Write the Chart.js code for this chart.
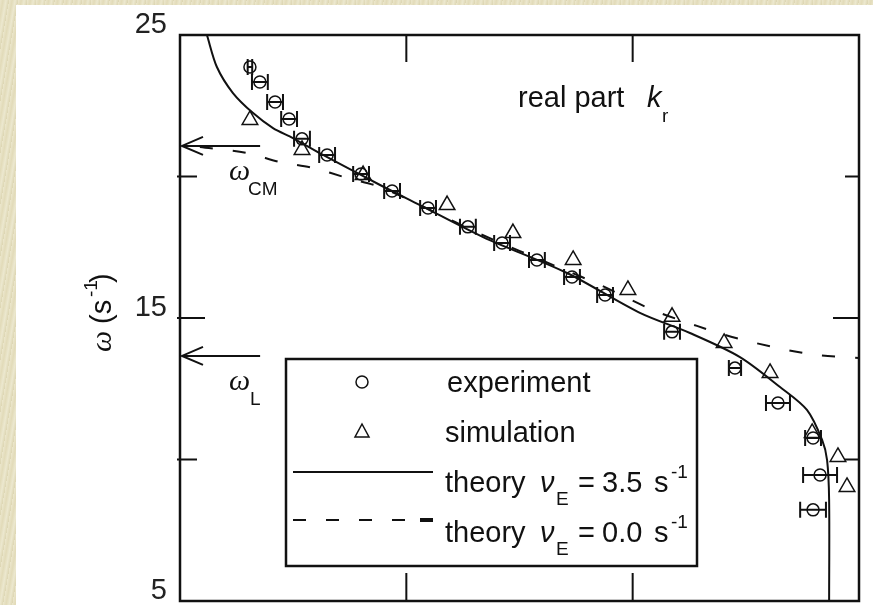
<!DOCTYPE html>
<html>
<head>
<meta charset="utf-8">
<script src="https://cdn.jsdelivr.net/npm/chart.js@4.4.1/dist/chart.umd.min.js"></script>
<style>
  html, body { margin: 0; padding: 0; }
  body {
    width: 873px; height: 605px; overflow: hidden; position: relative;
    background: repeating-linear-gradient(100deg, #ebe6cb 0px, #e2dbb9 3px, #ece8cf 6px, #ddd6b3 9px);
  }
  #paper { position: absolute; left: 16px; top: 5px; width: 857px; height: 600px; background: #fff; }
  #chart { position: absolute; left: 0; top: 0; }
</style>
</head>
<body>
<div id="paper"></div>
<canvas id="chart" width="873" height="605"></canvas>
<script>
// experiment (circles, with horizontal error bars)
const expX   = [0.309, 0.353, 0.420, 0.482, 0.539, 0.650, 0.800, 0.937, 1.096, 1.272,
                1.423, 1.577, 1.732, 1.878, 2.174, 2.452, 2.642, 2.797, 2.828, 2.797];
const expY   = [23.87, 23.34, 22.63, 22.03, 21.33, 20.76, 20.09, 19.49, 18.89, 18.22,
                17.65, 17.05, 16.45, 15.81, 14.51, 13.23, 12.00, 10.76, 9.45, 8.22];
const expErr = [0.010, 0.035, 0.035, 0.035, 0.035, 0.035, 0.035, 0.035, 0.035, 0.035,
                0.035, 0.035, 0.035, 0.035, 0.035, 0.027, 0.053, 0.035, 0.075, 0.057];

// simulation (triangles)
const simX = [0.309, 0.539, 0.809, 1.180, 1.471, 1.737, 1.979, 2.174, 2.404, 2.607, 2.793, 2.907, 2.947];
const simY = [22.00, 20.94, 20.05, 18.99, 18.00, 17.05, 15.99, 15.04, 14.12, 13.06, 10.94, 10.09, 9.03];

// theory, nu_E = 3.5 s^-1 (solid)
const th35X = [0.119, 0.163, 0.234, 0.323, 0.411, 0.499, 0.632, 0.884, 1.060, 1.339,
               1.710, 2.032, 2.253, 2.474, 2.651, 2.770, 2.837, 2.859, 2.868, 2.868];
const th35Y = [25.00, 23.87, 22.95, 22.24, 21.71, 21.36, 20.76, 19.70, 18.99, 17.86,
               16.59, 15.18, 14.47, 13.62, 12.56, 11.75, 10.69, 9.98, 8.57, 5.00];

// theory, nu_E = 0.0 s^-1 (dashed)
const th00X = [0.088, 0.296, 0.442, 0.588, 0.738, 0.884, 1.105, 1.326, 1.679, 1.856,
               2.090, 2.284, 2.408, 2.541, 2.682, 2.815, 3.000];
const th00Y = [21.04, 20.83, 20.51, 20.30, 19.95, 19.63, 18.82, 17.97, 16.77, 16.17,
               15.28, 14.72, 14.40, 14.12, 13.87, 13.69, 13.59];

// axes
const yTicks = [5, 10, 15, 20, 25];
const yTickLabels = ['5', '', '15', '', '25'];
const xTicks = [1, 2];

// marked frequencies (arrows)
const arrowLevels = [21.08, 13.66];
const arrowLabels = ['CM', 'L'];
const arrowLength = 0.354;

const pts = (xs, ys) => xs.map((x, i) => ({ x: x, y: ys[i] }));
const INK = '#111';
const SANS = '"Liberation Sans", Arial, sans-serif';
const SERIF = '"Liberation Serif", "Times New Roman", serif';

function rich(ctx, parts, y) {
  parts.forEach(p => {
    ctx.font = p.font;
    ctx.fillText(p.t, p.x, y + (p.dy || 0));
  });
}

const decor = {
  id: 'decor',
  afterDatasetsDraw(chart) {
    const ctx = chart.ctx;
    const xs = chart.scales.x, ys = chart.scales.y;
    const a = chart.chartArea;
    ctx.save();
    ctx.strokeStyle = INK;
    ctx.fillStyle = INK;
    ctx.lineCap = 'butt';

    // error bars
    ctx.lineWidth = 2;
    expX.forEach((x, i) => {
      const l = xs.getPixelForValue(x - expErr[i]);
      const r = xs.getPixelForValue(x + expErr[i]);
      const py = ys.getPixelForValue(expY[i]);
      ctx.beginPath();
      ctx.moveTo(l, py); ctx.lineTo(r, py);
      ctx.moveTo(l, py - 8); ctx.lineTo(l, py + 8);
      ctx.moveTo(r, py - 8); ctx.lineTo(r, py + 8);
      ctx.stroke();
    });

    // frame
    ctx.lineWidth = 2.5;
    ctx.strokeRect(a.left, a.top, a.right - a.left, a.bottom - a.top);

    // inner ticks and y tick labels
    ctx.lineWidth = 2;
    ctx.font = '29px ' + SANS;
    yTicks.forEach((v, i) => {
      const py = ys.getPixelForValue(v);
      ctx.fillStyle = '#222';
      ctx.textAlign = 'right';
      ctx.textBaseline = 'middle';
      ctx.fillText(yTickLabels[i], a.left - 13, py - 10);
      if (v === ys.min || v === ys.max) return;
      const long = yTickLabels[i] !== '';
      ctx.beginPath();
      ctx.moveTo(a.left - 3, py); ctx.lineTo(a.left + (long ? 25 : 17), py);
      ctx.moveTo(a.right, py); ctx.lineTo(a.right - (long ? 26 : 14), py);
      ctx.stroke();
    });
    ctx.fillStyle = INK;
    xTicks.forEach(v => {
      const px = xs.getPixelForValue(v);
      ctx.beginPath();
      ctx.moveTo(px, a.top); ctx.lineTo(px, a.top + 27);
      ctx.moveTo(px, a.bottom); ctx.lineTo(px, a.bottom - 28);
      ctx.stroke();
    });

    // arrows for omega_CM and omega_L
    ctx.textAlign = 'left';
    ctx.textBaseline = 'alphabetic';
    arrowLevels.forEach((lv, i) => {
      const py = ys.getPixelForValue(lv);
      const x0 = xs.getPixelForValue(0) + 2;
      const x1 = xs.getPixelForValue(arrowLength);
      ctx.beginPath();
      ctx.moveTo(x1, py); ctx.lineTo(x0, py);
      ctx.moveTo(x0 + 21, py - 9); ctx.lineTo(x0, py); ctx.lineTo(x0 + 21, py + 9);
      ctx.stroke();
      const base = py + 34;
      rich(ctx, [
        { t: '\u03C9', x: x0 + 47, font: 'italic 30px ' + SERIF },
        { t: arrowLabels[i], x: x0 + (i === 0 ? 66 : 68), font: '19px ' + SANS, dy: 15 }
      ], base);
    });

    // label "real part k_r"
    rich(ctx, [
      { t: 'real part', x: 518, font: '29px ' + SANS },
      { t: 'k', x: 647, font: 'italic 29px ' + SANS },
      { t: 'r', x: 662, font: '19px ' + SANS, dy: 15 }
    ], 107);

    // y axis title
    ctx.save();
    ctx.translate(111, 312);
    ctx.rotate(-Math.PI / 2);
    rich(ctx, [
      { t: '\u03C9', x: -40, font: 'italic 30px ' + SERIF },
      { t: '(s', x: -12, font: '29px ' + SANS },
      { t: '-1', x: 15, font: '19px ' + SANS, dy: -14 },
      { t: ')', x: 29, font: '29px ' + SANS }
    ], 0);
    ctx.restore();

    // legend box
    ctx.fillStyle = '#fff';
    ctx.fillRect(286, 359, 411, 207);
    ctx.lineWidth = 2.5;
    ctx.strokeRect(286, 359, 411, 207);
    ctx.fillStyle = INK;
    ctx.lineWidth = 1.5;
    ctx.beginPath(); ctx.arc(362, 382, 6, 0, Math.PI * 2); ctx.stroke();
    ctx.beginPath();
    ctx.moveTo(362, 424); ctx.lineTo(369, 437); ctx.lineTo(355, 437); ctx.closePath();
    ctx.stroke();
    ctx.lineWidth = 2;
    ctx.beginPath(); ctx.moveTo(293, 472); ctx.lineTo(433, 472); ctx.stroke();
    ctx.setLineDash([13, 20]);
    ctx.beginPath(); ctx.moveTo(293, 520); ctx.lineTo(420, 520); ctx.stroke();
    ctx.setLineDash([]);
    ctx.lineWidth = 4;
    ctx.beginPath(); ctx.moveTo(420, 520); ctx.lineTo(433, 520); ctx.stroke();

    rich(ctx, [{ t: 'experiment', x: 447, font: '29px ' + SANS }], 392);
    rich(ctx, [{ t: 'simulation', x: 445, font: '29px ' + SANS }], 442);
    [['3.5', 492], ['0.0', 542]].forEach(r => {
      rich(ctx, [
        { t: 'theory', x: 445, font: '29px ' + SANS },
        { t: '\u03BD', x: 540, font: 'italic 29px ' + SANS },
        { t: 'E', x: 556, font: '19px ' + SANS, dy: 13 },
        { t: '=', x: 578, font: '29px ' + SANS },
        { t: r[0], x: 602, font: '29px ' + SANS },
        { t: 's', x: 654, font: '29px ' + SANS },
        { t: '-1', x: 671, font: '19px ' + SANS, dy: -14 }
      ], r[1]);
    });
    ctx.restore();
  }
};

new Chart(document.getElementById('chart'), {
  type: 'scatter',
  data: {
    datasets: [
      {
        label: 'theory nu_E = 3.5 s^-1',
        data: pts(th35X, th35Y),
        showLine: true, borderColor: INK, borderWidth: 2, pointRadius: 0, tension: 0.3, fill: false
      },
      {
        label: 'theory nu_E = 0.0 s^-1',
        data: pts(th00X, th00Y),
        showLine: true, borderColor: INK, borderWidth: 2, borderDash: [13, 20], pointRadius: 0, tension: 0.3, fill: false
      },
      {
        label: 'experiment',
        data: pts(expX, expY),
        pointStyle: 'circle', pointRadius: 6, borderWidth: 1.5,
        borderColor: INK, backgroundColor: 'rgba(255,255,255,0)'
      },
      {
        label: 'simulation',
        data: pts(simX, simY),
        pointStyle: 'triangle', pointRadius: 9, borderWidth: 1.5,
        borderColor: INK, backgroundColor: 'rgba(255,255,255,0)'
      }
    ]
  },
  options: {
    responsive: false,
    animation: false,
    layout: { autoPadding: false, padding: { top: 35, right: 14, bottom: 4, left: 0 } },
    plugins: { legend: { display: false }, tooltip: { enabled: false } },
    scales: {
      x: { type: 'linear', min: 0, max: 3, display: false },
      y: {
        type: 'linear', min: 5, max: 25,
        afterBuildTicks: s => { s.ticks = yTicks.map(v => ({ value: v })); },
        afterFit: s => { s.width = 180; },
        grid: { display: false, drawTicks: false },
        border: { display: false },
        ticks: { display: false }
      }
    }
  },
  plugins: [decor]
});
</script>
</body>
</html>
